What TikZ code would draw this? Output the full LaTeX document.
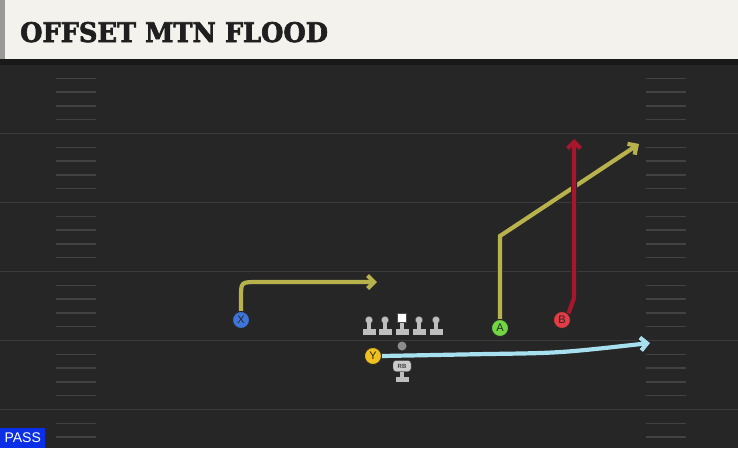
\documentclass[tikz,border=0pt]{standalone}
\usepackage{fontspec}
\setsansfont{Liberation Sans}
\newfontfamily\titlefont[FakeBold=2.5]{DejaVu Serif}
\usetikzlibrary{arrows.meta,positioning,calc}
\definecolor{field}{HTML}{262626}
\definecolor{yardline}{HTML}{3B3B3B}
\definecolor{hashmark}{HTML}{424242}
\definecolor{header}{HTML}{F4F2EC}
\definecolor{olive}{HTML}{B8B24C}
\definecolor{crimson}{HTML}{A8162E}
\definecolor{skyline}{HTML}{A7E0EE}
\definecolor{xblue}{HTML}{3F74D8}
\definecolor{agreen}{HTML}{72D544}
\definecolor{bred}{HTML}{E23C44}
\definecolor{yyellow}{HTML}{F0C020}
\definecolor{passblue}{HTML}{0B2FE6}
\definecolor{olgray}{HTML}{BEBEBE}
\begin{document}
\begin{tikzpicture}[
    x=1pt, y=-1pt,
    player/.style={circle, draw=black!85, line width=0.9pt, minimum size=17pt,
        inner sep=0, text=black!85, font=\sffamily\fontsize{11}{11}\selectfont},
    route/.style={line width=4.2pt, -{Straight Barb[length=6.5pt,width=13pt]},
        preaction={draw=black!85, line width=6pt}},
    lineman/.style={circle, fill=olgray, draw=black!70, line width=0.4pt,
        minimum size=7.5pt, inner sep=0},
    hash/.style={draw=hashmark, line width=1.4pt},
    yard/.style={draw=yardline, line width=1.8pt}]

% field and header
\fill[field] (0,0) rectangle (738,448);
\useasboundingbox (0,0) rectangle (738,448);
\fill[black!90] (0,58) rectangle (738,65);
\fill[header] (5,0) rectangle (738,59);
\fill[black!40] (0,0) rectangle (5,59);
\node[anchor=base west, inner sep=0, text=black!88, xscale=0.95,
      font=\titlefont\bfseries\fontsize{27}{27}\selectfont] (title) at (20,42) {OFFSET MTN FLOOD};

% yard lines and hash marks
\foreach \k in {1,...,5} {
    \path[yard] (0,{64.5+69*\k}) -- (738,{64.5+69*\k});
}
\foreach \k in {0,...,5} {
    \foreach \i in {1,...,4} {
        \path[hash] (56,{64.5+69*\k+13.8*\i}) -- (96,{64.5+69*\k+13.8*\i});
        \path[hash] (646,{64.5+69*\k+13.8*\i}) -- (686,{64.5+69*\k+13.8*\i});
    }
}

% offensive line
\foreach \name/\xx in {lt/369,lg/385,rg/419,rt/436} {
    \node[lineman] (\name) at (\xx,320) {};
    \fill[olgray] ($(\name)+(-2.2,2)$) rectangle ($(\name)+(2.2,10)$);
    \fill[olgray] ($(\name)+(-6.5,9)$) rectangle ($(\name)+(6.5,14.5)$);
}
\node[rectangle, fill=white, draw=black!70, line width=0.4pt, minimum size=9pt, inner sep=0] (c) at (402,318) {};
\fill[olgray] ($(c)+(-2.2,4.5)$) rectangle ($(c)+(2.2,12)$);
\fill[olgray] ($(c)+(-6.5,11)$) rectangle ($(c)+(6.5,16.5)$);
\node[circle, fill=black!45, minimum size=9pt, inner sep=0] (ball) at (402,346) {};

% running back
\node[rectangle, rounded corners=3pt, fill=olgray!80, draw=black!70, line width=0.4pt,
      minimum width=18pt, minimum height=11pt, inner sep=0, text=black!75,
      font=\sffamily\bfseries\fontsize{6}{6}\selectfont] (rb) at (402,366) {RB};
\fill[olgray] ($(rb)+(-2.2,5.5)$) rectangle ($(rb)+(2.2,12)$);
\fill[olgray] ($(rb)+(-6.5,11)$) rectangle ($(rb)+(6.5,15.5)$);

% routes
\coordinate (xturn) at (241,297);
\coordinate (xend) at (377,282);
\coordinate (acut) at (500,236);
\coordinate (aend) at (639,144);
\coordinate (bstem) at (574,298);
\coordinate (bend) at (574,139);
\coordinate (ybend) at (488,354);
\coordinate (yend) at (650,343);

\node[player, fill=xblue] (x) at (241,320) {X};
\node[player, fill=agreen] (a) at (500,328) {A};
\node[player, fill=bred] (b) at (562,320) {B};
\node[player, fill=yyellow] (y) at (373,356) {Y};

\draw[route, olive] (x.north) -- (xturn) .. controls (241,282) .. (258,282) -- (xend);
\draw[route, olive] (a.north) -- (acut) -- (aend);
\draw[route, crimson] (b.north east) -- (bstem) -- (bend);
\draw[route, skyline] (y.east) -- (ybend) .. controls (560,353) .. (yend);

% redraw players over route ends
\node[player, fill=xblue] at (x) {X};
\node[player, fill=agreen] at (a) {A};
\node[player, fill=bred] at (b) {B};
\node[player, fill=yyellow] at (y) {Y};

% play type tag
\node[anchor=south west, fill=passblue, text=white, inner xsep=2pt, inner ysep=3pt,
      minimum width=45pt, minimum height=20pt,
      font=\sffamily\fontsize{14}{14}\selectfont] (pass) at (0,448) {PASS};
\end{tikzpicture}
\end{document}
